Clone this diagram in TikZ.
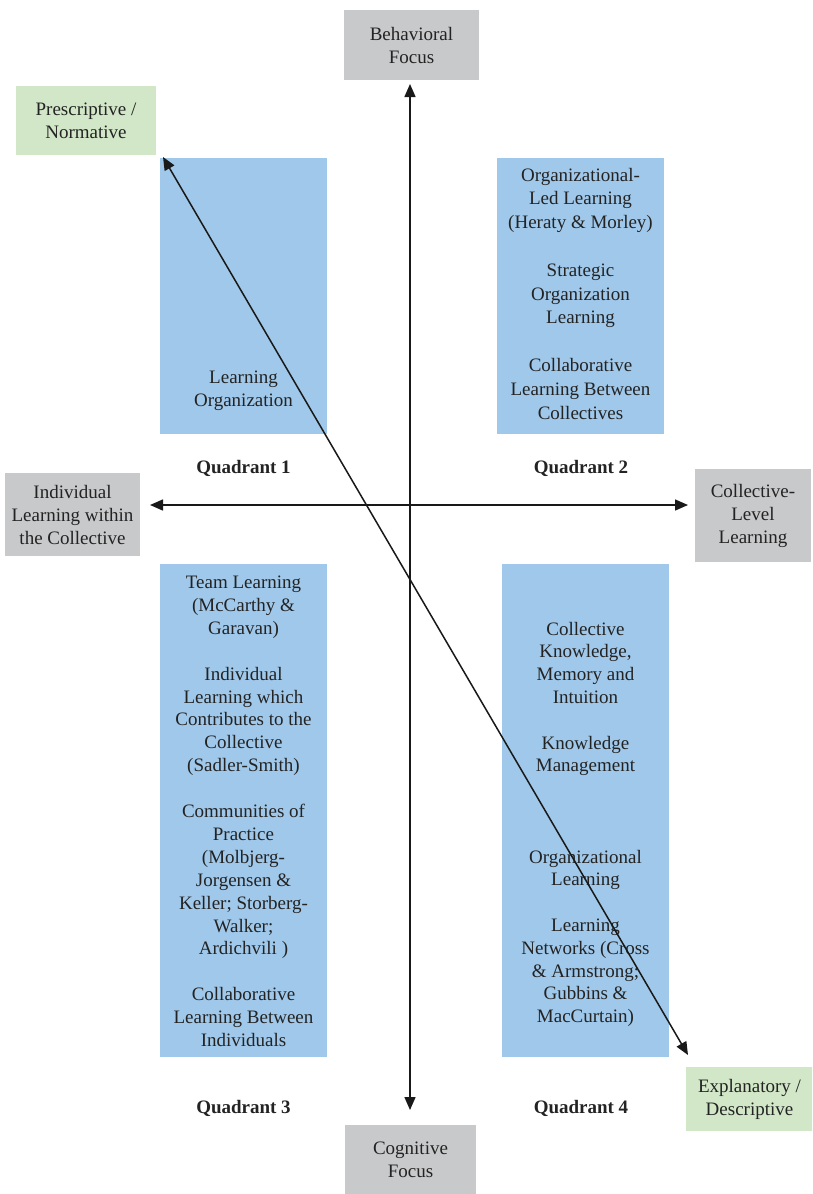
\documentclass[tikz,border=0pt]{standalone}
\usepackage{fontspec}
\setmainfont{Liberation Serif}
\usetikzlibrary{arrows.meta}
\definecolor{qblue}{RGB}{160,200,234}
\definecolor{sgray}{RGB}{200,201,203}
\definecolor{sgreen}{RGB}{209,231,199}
\definecolor{txt}{RGB}{35,35,35}
\definecolor{arr}{RGB}{25,25,25}
\begin{document}
\begin{tikzpicture}[x=1pt,y=-1pt,
  every node/.style={inner sep=0pt, outer sep=0pt, text=txt, align=center,
    font=\fontsize{19}{23}\selectfont},
  blockbox/.style={anchor=north west, draw=none},
  bluebox/.style={blockbox, fill=qblue},
  graybox/.style={blockbox, fill=sgray},
  greenbox/.style={blockbox, fill=sgreen},
  blocktext/.style={anchor=north},
  quadlabel/.style={font=\fontsize{19}{23}\selectfont\bfseries},
  axis/.style={draw=arr, line width=1.5pt,
    {Triangle[length=13pt,width=11pt]}-{Triangle[length=13pt,width=11pt]}}
]
\clip (0,0) rectangle (812,1194);
\fill[white] (0,0) rectangle (812,1194);

% side boxes
\node[graybox, minimum width=135pt, minimum height=70pt] (beh) at (344,10) {Behavioral\\Focus};
\node[greenbox, minimum width=140pt, minimum height=69pt] (pre) at (16,86) {Prescriptive /\\Normative};
\node[graybox, minimum width=135pt, minimum height=83pt] (ind) at (5,473) {Individual\\Learning within\\the Collective};
\node[graybox, minimum width=116pt, minimum height=93pt] (col) at (695,469) {Collective-\\Level\\Learning};
\node[greenbox, minimum width=127pt, minimum height=64pt] (exp) at (686,1067) {Explanatory /\\Descriptive};
\node[graybox, minimum width=131pt, minimum height=69pt] (cog) at (345,1125) {Cognitive\\Focus};

% quadrant boxes
\node[bluebox, minimum width=167pt, minimum height=276pt] (q1) at (160,158) {};
\node[bluebox, minimum width=167pt, minimum height=276pt] (q2) at (497,158) {};
\node[bluebox, minimum width=167pt, minimum height=493pt] (q3) at (160,564) {};
\node[bluebox, minimum width=167pt, minimum height=493pt] (q4) at (502,564) {};

% quadrant texts
\node[blocktext] (q1t) at (243.5,371) {Learning\\Organization};
\node[blocktext, font=\fontsize{19}{23.8}\selectfont] (q2t) at (580.5,168) {Organizational-\\Led Learning\\(Heraty \& Morley)\\[23.8pt]
Strategic\\Organization\\Learning\\[23.8pt]
Collaborative\\Learning Between\\Collectives};
\node[blocktext, font=\fontsize{19}{22.9}\selectfont] (q3t) at (243.5,576) {Team Learning\\(McCarthy \&\\Garavan)\\[22.9pt]
Individual\\Learning which\\Contributes to the\\Collective\\(Sadler-Smith)\\[22.9pt]
Communities of\\Practice\\(Molbjerg-\\Jorgensen \&\\Keller; Storberg-\\Walker;\\Ardichvili )\\[22.9pt]
Collaborative\\Learning Between\\Individuals};
\node[blocktext, font=\fontsize{19}{22.8}\selectfont] (q4t) at (585.5,622) {Collective\\Knowledge,\\Memory and\\Intuition\\[22.8pt]
Knowledge\\Management\\[68.4pt]
Organizational\\Learning\\[22.8pt]
Learning\\Networks (Cross\\\& Armstrong;\\Gubbins \&\\MacCurtain)};

% quadrant labels
\node[quadlabel] (l1) at (243.5,468) {Quadrant 1};
\node[quadlabel] (l2) at (581,468) {Quadrant 2};
\node[quadlabel] (l3) at (243.5,1108) {Quadrant 3};
\node[quadlabel] (l4) at (581,1108) {Quadrant 4};

% axes
\coordinate (vtop) at (410,84);
\coordinate (vbot) at (410,1110);
\coordinate (hleft) at (150,505);
\coordinate (hright) at (688,505);
\coordinate (dtop) at (163,157);
\coordinate (dbot) at (688,1055);
\draw[axis] (vtop) -- (vbot);
\draw[axis] (hleft) -- (hright);
\draw[axis] (dtop) -- (dbot);
\end{tikzpicture}
\end{document}
